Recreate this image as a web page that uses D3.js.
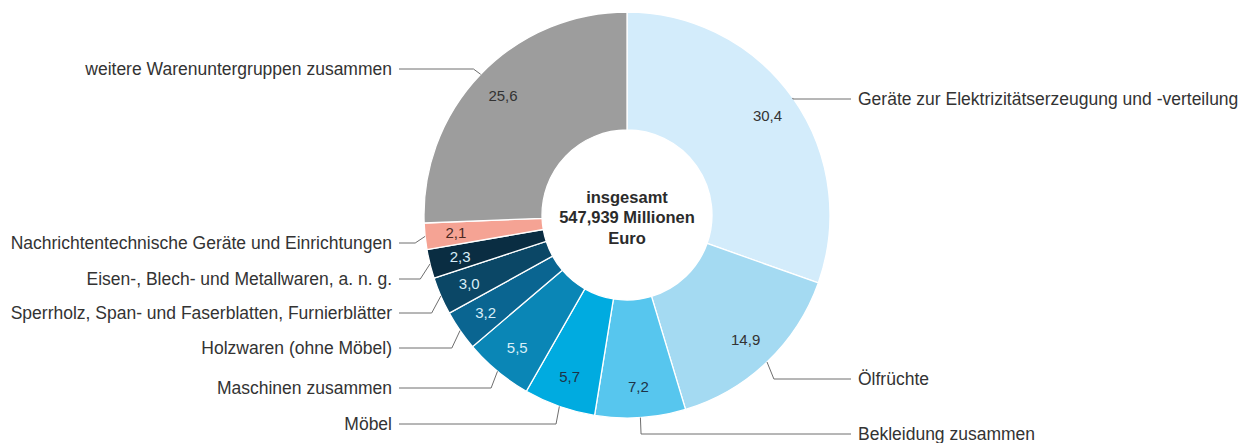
<!DOCTYPE html>
<html>
<head>
<meta charset="utf-8">
<script src="https://cdn.jsdelivr.net/npm/d3@7"></script>
<style>
  html, body { margin: 0; padding: 0; background: #ffffff; }
  svg { display: block; }
  text { font-family: "Liberation Sans", Arial, sans-serif; }
</style>
</head>
<body>
<svg id="chart" width="1240" height="443"></svg>
<script>
// Data (clockwise from 12 o'clock)
const categories = [
  "Geräte zur Elektrizitätserzeugung und -verteilung",
  "Ölfrüchte",
  "Bekleidung zusammen",
  "Möbel",
  "Maschinen zusammen",
  "Holzwaren (ohne Möbel)",
  "Sperrholz, Span- und Faserblatten, Furnierblätter",
  "Eisen-, Blech- und Metallwaren, a. n. g.",
  "Nachrichtentechnische Geräte und Einrichtungen",
  "weitere Warenuntergruppen zusammen"
];
const values = [30.4, 14.9, 7.2, 5.7, 5.5, 3.2, 3.0, 2.3, 2.1, 25.6];
const valueLabels = ["30,4", "14,9", "7,2", "5,7", "5,5", "3,2", "3,0", "2,3", "2,1", "25,6"];
const centerLines = ["insgesamt", "547,939 Millionen", "Euro"];

// Styling
const colors = ["#d3ecfb", "#a4daf2", "#57c6ee", "#00abe0", "#0a86b6", "#0a6591", "#0b4766", "#0a2d42", "#f5a394", "#9d9d9d"];
const valueTextColors = ["#333333", "#333333", "#1d3347", "#1d3347", "#d8eef8", "#d8eef8", "#d8eef8", "#d8eef8", "#4a2a24", "#333333"];
// label line y-positions and side (layout)
const labelY = [99, 379, 434, 424, 388, 348, 313, 279, 243, 69];
const labelSide = ["right", "right", "right", "left", "left", "left", "left", "left", "left", "left"];

const cx = 627, cy = 215, outerR = 203, innerR = 85, valueR = 172;
const leftLineX = 399, rightLineX = 851, leftTextX = 392, rightTextX = 858;

const svg = d3.select("#chart");
const g = svg.append("g").attr("transform", `translate(${cx},${cy})`);

const pie = d3.pie().sort(null).value(d => d)(values);
const arc = d3.arc().innerRadius(innerR).outerRadius(outerR);

g.selectAll("path.slice")
  .data(pie)
  .join("path")
  .attr("class", "slice")
  .attr("d", arc)
  .attr("fill", (d, i) => colors[i])
  .attr("stroke", "#ffffff")
  .attr("stroke-width", 1.3);

const valueArc = d3.arc().innerRadius(valueR).outerRadius(valueR);
g.selectAll("text.val")
  .data(pie)
  .join("text")
  .attr("class", "val")
  .attr("transform", d => `translate(${valueArc.centroid(d)})`)
  .attr("text-anchor", "middle")
  .attr("dy", "0.35em")
  .attr("font-size", 15)
  .attr("fill", (d, i) => valueTextColors[i])
  .text((d, i) => valueLabels[i]);

// center text
const ct = g.append("text")
  .attr("text-anchor", "middle")
  .attr("font-size", 16.5)
  .attr("font-weight", "bold")
  .attr("fill", "#2b2b2b");
centerLines.forEach((t, i) => {
  ct.append("tspan").attr("x", 0).attr("y", (i - 1) * 20.5 + 3 + 5).text(t);
});

// leader lines and labels
const labels = svg.append("g");
pie.forEach((d, i) => {
  const a = (d.startAngle + d.endAngle) / 2;
  const sx = cx + outerR * Math.sin(a);
  const sy = cy - outerR * Math.cos(a);
  const ly = labelY[i];
  const ex = Math.abs(ly - sy) < 2 ? sx : sx + 10 * Math.sin(a);
  const endX = labelSide[i] === "right" ? rightLineX : leftLineX;
  const path = d3.path();
  path.moveTo(sx, sy);
  path.lineTo(ex, ly);
  path.lineTo(endX, ly);
  labels.append("path")
    .attr("d", path.toString())
    .attr("fill", "none")
    .attr("stroke", "#6e6e6e")
    .attr("stroke-width", 1);
  labels.append("text")
    .attr("x", labelSide[i] === "right" ? rightTextX : leftTextX)
    .attr("y", ly)
    .attr("dy", "0.35em")
    .attr("text-anchor", labelSide[i] === "right" ? "start" : "end")
    .attr("font-size", 17.5)
    .attr("fill", "#333333")
    .text(categories[i]);
});
</script>
</body>
</html>
